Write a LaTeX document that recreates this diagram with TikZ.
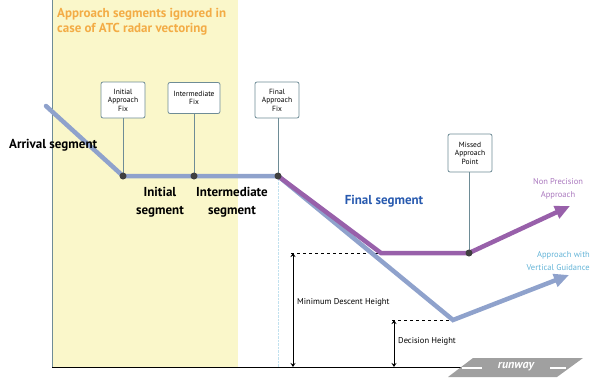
\documentclass[tikz,border=0pt]{standalone}
\usepackage{fontspec}
\setmainfont{PT Sans}
\usetikzlibrary{arrows.meta}

\definecolor{vectorfill}{RGB}{250,247,202}
\definecolor{vectortext}{RGB}{243,172,70}
\definecolor{pathblue}{RGB}{143,162,204}
\definecolor{pathpurple}{RGB}{152,96,170}
\definecolor{finalblue}{RGB}{40,90,175}
\definecolor{npatext}{RGB}{170,120,190}
\definecolor{vgtext}{RGB}{100,180,215}
\definecolor{fixedge}{RGB}{110,140,150}
\definecolor{runwaygray}{RGB}{160,160,160}

\tikzset{
  fixbox/.style={draw=fixedge,fill=white,rounded corners=2pt,line width=0.8pt,
    align=center,inner sep=2pt,font=\fontsize{7.5}{8.5}\selectfont},
  fixdot/.style={circle,fill=darkgray,inner sep=0pt,minimum size=7pt},
  seglabel/.style={font=\fontsize{13}{18}\selectfont\bfseries,align=center},
  bluepath/.style={pathblue,line width=4.5pt},
  purplepath/.style={pathpurple,line width=4.5pt},
  bigtip/.style={-{Triangle[length=15pt,width=13pt]}},
  heightarrow/.style={{Stealth[length=4pt,width=5pt]}-{Stealth[length=4pt,width=5pt]},line width=0.8pt},
  smalltext/.style={font=\fontsize{8.5}{9}\selectfont}
}

\begin{document}
\begin{tikzpicture}[x=1pt,y=-1pt]
    \useasboundingbox (0,0) rectangle (591,380);

    % Vectoring area
    \fill[vectorfill] (52,0) rectangle (238,367);
    \node[anchor=north west,text=vectortext,align=left,font=\fontsize{13}{15}\selectfont\bfseries,inner sep=0pt]
      (vectoring) at (57,8) {Approach segments ignored in\\case of ATC radar vectoring};

    % Axes
    \draw[fixedge,line width=1pt] (52,0) -- (52,367);
    \draw[black,line width=0.8pt] (52,367) -- (465,367);
    \draw[vgtext!40,densely dotted] (278,176) -- (278,367);

    % Points
    \coordinate (start) at (46,106);
    \coordinate (iaf) at (123,176);
    \coordinate (if) at (194,176);
    \coordinate (faf) at (278,176);
    \coordinate (mda) at (381,253);
    \coordinate (mapt) at (469,253);
    \coordinate (npaend) at (570,206);
    \coordinate (dh) at (453,320);
    \coordinate (vgend) at (569,275);

    % Fix boxes
    \node[fixbox,minimum width=44pt,minimum height=36pt] (iafbox) at (123,100) {Initial\\Approach\\Fix};
    \node[fixbox,minimum width=52pt,minimum height=31pt] (ifbox) at (194,98) {Intermediate\\Fix};
    \node[fixbox,minimum width=44pt,minimum height=36pt] (fafbox) at (277,100) {Final\\Approach\\Fix};
    \node[fixbox,minimum width=44pt,minimum height=38pt] (maptbox) at (470,153) {Missed\\Approach\\Point};
    \draw[fixedge,line width=1pt] (iafbox) -- (iaf);
    \draw[fixedge,line width=1pt] (ifbox) -- (if);
    \draw[fixedge,line width=1pt] (fafbox.south -| faf) -- (faf);
    \draw[fixedge,line width=1pt] (maptbox.south -| mapt) -- (mapt);

    % Heights
    \draw[dashed,line width=0.7pt] (291,253) -- (mda);
    \draw[dashed,line width=0.7pt] (392,320) -- (dh);
    \coordinate (mdhtop) at (293,253);
    \coordinate (mdhbot) at (293,367);
    \coordinate (dhtop) at (394,320);
    \coordinate (dhbot) at (394,367);
    \draw[heightarrow] (mdhtop) -- (mdhbot);
    \draw[heightarrow] (dhtop) -- (dhbot);
    \node[smalltext,anchor=west,inner sep=0pt] (mdhlabel) at (297,302) {Minimum Descent Height};
    \node[smalltext,anchor=west,inner sep=0pt] (dhlabel) at (398,341) {Decision Height};

    % Approach paths
    \draw[bluepath,line cap=round] (start) -- (iaf) -- (faf);
    \draw[bluepath,bigtip] (faf) -- (dh) -- (vgend);
    \draw[purplepath,bigtip] (faf) -- (mda) -- (mapt) -- (npaend);
    \foreach \p in {iaf,if,faf,mapt}
      \node[fixdot] at (\p) {};

    % Segment labels
    \node[seglabel,anchor=west,inner sep=0pt] (arrival) at (9,145) {Arrival segment};
    \node[seglabel] (initial) at (160,202) {Initial\\segment};
    \node[seglabel] (intermediate) at (232,202) {Intermediate\\segment};
    \node[seglabel,text=finalblue] (final) at (384,201) {Final segment};
    \node[text=npatext,align=center,font=\fontsize{8.5}{13}\selectfont] (npa) at (558,189) {Non Precision\\Approach};
    \node[text=vgtext,align=right,anchor=east,inner sep=0pt,font=\fontsize{8.5}{13}\selectfont] (vg) at (590,261) {Approach with\\Vertical Guidance};

    % Runway
    \fill[runwaygray] (448,377) -- (557,377) -- (583,358) -- (473,358) -- cycle;
    \draw[white,line width=1.5pt] (462,368) -- (482,368);
    \draw[white,line width=1.5pt] (550,368) -- (566,368);
    \node[text=white,font=\fontsize{12}{12}\selectfont\bfseries\itshape] (runway) at (516,367) {runway};
\end{tikzpicture}
\end{document}
